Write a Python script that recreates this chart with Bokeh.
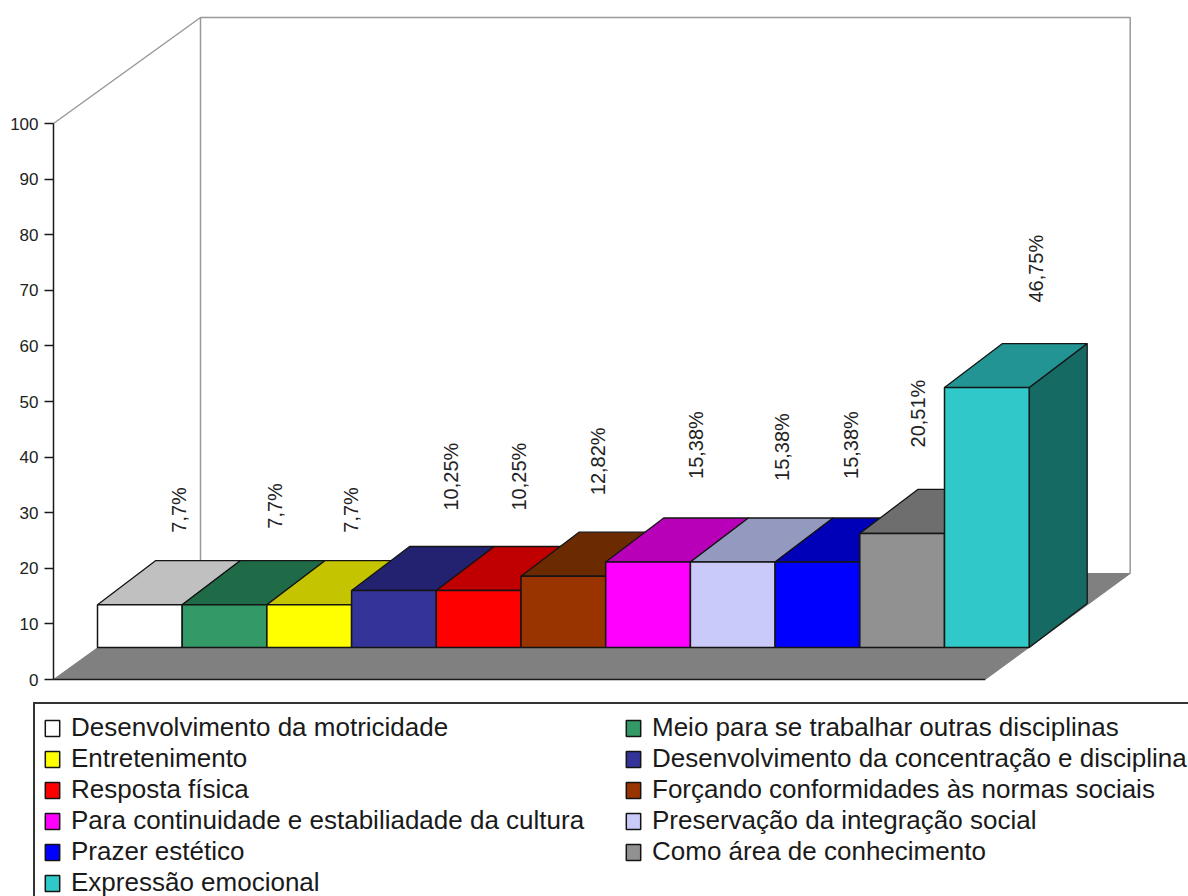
from bokeh.plotting import figure
from bokeh.models import (ColumnDataSource, FixedTicker, Range1d, Legend, LegendItem)
from bokeh.core.properties import value
from bokeh.embed import file_html
from bokeh.resources import INLINE

categories = ["Desenvolvimento da motricidade", "Meio para se trabalhar outras disciplinas",
              "Entretenimento", "Desenvolvimento da concentração e disciplina",
              "Resposta física", "Forçando conformidades às normas sociais",
              "Para continuidade e estabiliadade da cultura", "Preservação da integração social",
              "Prazer estético", "Como área de conhecimento", "Expressão emocional"]
values = [7.7, 7.7, 7.7, 10.25, 10.25, 12.82, 15.38, 15.38, 15.38, 20.51, 46.75]
labels = ["7,7%", "7,7%", "7,7%", "10,25%", "10,25%", "12,82%", "15,38%", "15,38%", "15,38%", "20,51%", "46,75%"]
y_ticks = [0, 10, 20, 30, 40, 50, 60, 70, 80, 90, 100]

front_colors = ["#ffffff", "#339966", "#ffff00", "#333399", "#ff0000", "#993300",
                "#ff00ff", "#c9c9fa", "#0000ff", "#919191", "#30c9c9"]
top_colors = ["#c0c0c0", "#206b47", "#c4c400", "#222270", "#c00000", "#6b2a00",
              "#b800b8", "#9499c0", "#0000b8", "#6e6e6e", "#229494"]
side_color = "#156a64"

# pixel scale of the chart
W, H = 1188, 896
PX_X, PX_Y = 84.7, 5.56
AXIS_PX, ZERO_PX = 53, 679
# 3D projection, in data units
wall_dx, wall_dy = 147 / PX_X, 106 / PX_Y
inset_dx, inset_dy = 44 / PX_X, 32 / PX_Y
depth_dx, depth_dy = 58 / PX_X, 44 / PX_Y
floor_w = 11.0
back_w = floor_w - 2 / PX_X
wall_top = 100 + wall_dy  # back wall runs to the top of the scale

# hand-placed offsets of the rotated value labels (screen px from bar's top centre)
label_dx = [39, 50, 42, 57, 40, 35, 48, 49, 34, 16, 49]
label_dy = [-72, -76, -72, -80, -80, -81, -83, -81, -83, -86, -85]

p = figure(width=W, height=H, output_backend="svg", toolbar_location=None,
           x_axis_location=None, y_axis_location="left", min_border=0,
           x_range=Range1d(-AXIS_PX / PX_X, (W - AXIS_PX) / PX_X),
           y_range=Range1d((ZERO_PX - H) / PX_Y, ZERO_PX / PX_Y))
p.grid.visible = False
p.outline_line_color = None
p.background_fill_color = "white"
p.border_fill_color = "white"

ax = p.yaxis[0]
ax.fixed_location = 0
ax.bounds = (0, 100)
ax.ticker = FixedTicker(ticks=y_ticks)
ax.major_tick_in = 0
ax.major_tick_out = 9
ax.minor_tick_line_color = None
ax.axis_line_color = "#1a1a1a"
ax.axis_line_width = 1.5
ax.major_tick_line_color = "#1a1a1a"
ax.major_tick_line_width = 1.5
ax.major_label_text_font = "Liberation Sans"
ax.major_label_text_font_size = "17px"
ax.major_label_text_color = "#222222"
ax.major_label_standoff = 6

# walls
wall_col = "#999999"
p.line([0, wall_dx, wall_dx + back_w, wall_dx + back_w],
       [100, wall_top, wall_top, wall_dy],
       line_color=wall_col, line_width=1.5)
p.line([wall_dx, wall_dx], [wall_top, wall_dy], line_color=wall_col, line_width=1.5)
# floor
p.patch([0, floor_w, wall_dx + back_w, wall_dx], [0, 0, wall_dy, wall_dy],
        fill_color="#808080", line_color="#808080", line_width=1)
p.line([0, floor_w], [0, 0], line_color="#1a1a1a", line_width=1.5)

edge = "#141414"
fronts = []
for i, v in enumerate(values):
    x0 = inset_dx + i
    x1 = x0 + 1
    y0 = inset_dy
    y1 = inset_dy + v
    # side
    p.patch([x1, x1 + depth_dx, x1 + depth_dx, x1], [y0, y0 + depth_dy, y1 + depth_dy, y1],
            fill_color=side_color, line_color=edge, line_width=1.3)
    # top
    p.patch([x0, x1, x1 + depth_dx, x0 + depth_dx], [y1, y1, y1 + depth_dy, y1 + depth_dy],
            fill_color=top_colors[i], line_color=edge, line_width=1.3)
    # front
    r = p.quad(left=x0, right=x1, bottom=y0, top=y1, fill_color=front_colors[i],
               line_color=edge, line_width=1.5)
    fronts.append(r)

src = ColumnDataSource(dict(
    x=[inset_dx + i + 0.5 for i in range(len(values))],
    y=[inset_dy + v for v in values],
    t=labels, dx=label_dx, dy=label_dy))
p.text("x", "y", text="t", source=src, x_offset="dx", y_offset="dy", angle=1.5708,
       text_align="left", text_baseline="middle", text_color="#222222",
       text_font=value("Liberation Sans"), text_font_size="20px")

legend = Legend(items=[LegendItem(label=c, renderers=[r]) for c, r in zip(categories, fronts)],
                ncols=2, orientation="horizontal", location=(33, -12),
                label_text_font="Liberation Sans", label_text_font_size="26px",
                label_text_color="#1a1a1a", label_standoff=10, glyph_width=18, glyph_height=20,
                label_height=20, label_width=553, spacing=-2, padding=8, margin=0,
                border_line_color="#333333", border_line_width=2, border_line_alpha=1,
                background_fill_color="white", background_fill_alpha=1)
p.add_layout(legend)

open("out.html", "w").write(file_html(p, INLINE))
